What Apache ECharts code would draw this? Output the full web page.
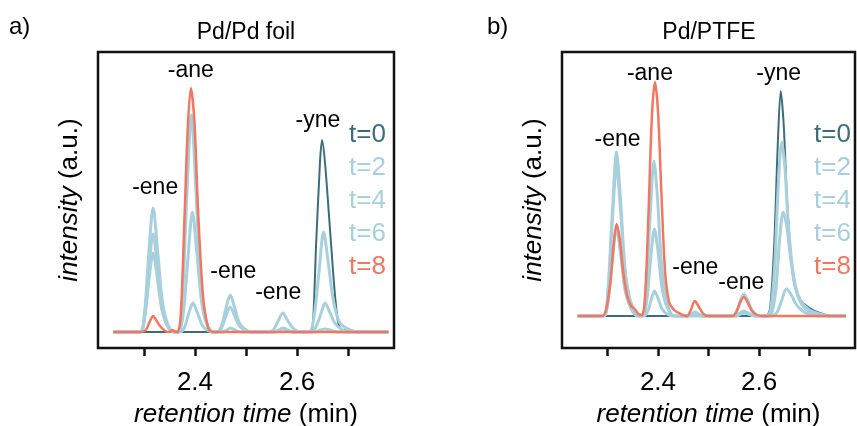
<!DOCTYPE html>
<html>
<head>
<meta charset="utf-8">
<script src="https://cdn.jsdelivr.net/npm/echarts@6/dist/echarts.min.js"></script>
<style>
  html, body { margin: 0; background: #fff; }
  #chart { width: 857px; height: 426px; }
</style>
</head>
<body>
<div id="chart"></div>
<script>
const FONT = '"Liberation Sans", Arial, sans-serif'
const INK = '#000'

const names = ['t=0', 't=2', 't=4', 't=6', 't=8']
const colors = ['#3d6d7a', '#a8d0dc', '#a8d0dc', '#a8d0dc', '#f17760']
const widths = [2, 3, 3, 3, 2.5]

const tickValues = [2.3, 2.4, 2.5, 2.6, 2.7]
const tickLabels = [2.4, 2.6]

// a) Pd/Pd foil  [retention time, intensity]
const foilT0 = [[2.24,0],[2.620,0],[2.628,0],[2.638,95],[2.645,170],[2.649,192],[2.655,168],[2.665,100],[2.676,28],[2.684,4],[2.70,1],[2.779,0]]
const foilT2 = [[2.24,0],[2.292,0],[2.301,12],[2.309,48],[2.318,79],[2.327,51],[2.336,20],[2.346,6],[2.358,0],
  [2.370,0],[2.379,4],[2.387,17],[2.396,29],[2.405,19],[2.414,7],[2.424,2],[2.436,0],
  [2.443,0],[2.452,4],[2.460,15],[2.469,25],[2.478,16],[2.487,6],[2.497,2],[2.51,0],
  [2.546,0],[2.555,3],[2.563,11],[2.572,19],[2.581,12],[2.590,5],[2.600,1],[2.612,0],
  [2.624,0],[2.633,14],[2.643,60],[2.652,100],[2.661,70],[2.671,32],[2.683,10],[2.70,3],[2.72,0],[2.779,0]]
const foilT4 = [[2.24,0],[2.292,0],[2.301,19],[2.309,75],[2.318,124],[2.327,80],[2.336,31],[2.346,9],[2.358,0],
  [2.368,0],[2.377,18],[2.386,72],[2.395,120],[2.404,78],[2.413,30],[2.423,8],[2.436,0],
  [2.443,0],[2.452,6],[2.460,22],[2.469,37],[2.478,24],[2.487,9],[2.497,3],[2.51,0],
  [2.556,0],[2.564,2],[2.572,4],[2.582,2],[2.594,0],
  [2.627,0],[2.636,4],[2.646,17],[2.655,29],[2.664,20],[2.674,9],[2.686,3],[2.70,0],[2.779,0]]
const foilT6 = [[2.24,0],[2.292,0],[2.301,15],[2.309,60],[2.318,98],[2.327,63],[2.336,25],[2.346,7],[2.358,0],
  [2.367,0],[2.375,30],[2.384,135],[2.393,217],[2.402,140],[2.411,52],[2.421,14],[2.434,0],
  [2.455,0],[2.463,2],[2.469,4],[2.478,2],[2.49,0],
  [2.558,0],[2.565,1.5],[2.572,3],[2.581,1.5],[2.592,0],
  [2.636,0],[2.646,2],[2.655,3],[2.665,2],[2.68,0],[2.779,0]]
const foilT8 = [[2.24,0],[2.296,0],[2.305,3],[2.311,10],[2.318,16],[2.325,11],[2.333,5],[2.342,1],[2.350,0],[2.356,2],[2.362,0],
  [2.366,0],[2.372,15],[2.380,122],[2.386,205],[2.392,244],[2.399,210],[2.406,122],[2.416,35],[2.426,4],[2.435,0],[2.779,0]]

// b) Pd/PTFE
const ptfeT0 = [[2.241,0],[2.608,0],[2.615,0],[2.622,8],[2.630,70],[2.637,170],[2.643,225],[2.649,190],[2.655,120],[2.662,65],[2.670,32],[2.682,16],[2.700,8],[2.720,3],[2.745,0],[2.772,0]]
const ptfeT2 = [[2.241,0],[2.292,0],[2.300,10],[2.309,52],[2.318,88],[2.326,62],[2.335,25],[2.346,8],[2.360,0],
  [2.372,0],[2.380,5],[2.387,17],[2.393,25],[2.400,18],[2.408,7],[2.418,2],[2.43,0],
  [2.458,0],[2.466,2],[2.473,4],[2.481,2],[2.49,0],
  [2.548,0],[2.556,5],[2.563,15],[2.570,22],[2.578,15],[2.586,6],[2.596,1],[2.606,0],
  [2.615,0],[2.623,6],[2.631,50],[2.638,130],[2.645,174],[2.651,150],[2.657,100],[2.664,58],[2.672,30],[2.684,14],[2.70,6],[2.72,2],[2.745,0],[2.772,0]]
const ptfeT4 = [[2.241,0],[2.292,0],[2.300,17],[2.309,90],[2.318,150],[2.326,105],[2.335,42],[2.346,13],[2.360,0],
  [2.370,0],[2.378,16],[2.386,60],[2.393,87],[2.400,65],[2.408,28],[2.418,9],[2.432,0],
  [2.460,0],[2.473,3],[2.488,0],
  [2.555,0],[2.562,3],[2.570,5],[2.579,3],[2.592,0],
  [2.618,0],[2.626,4],[2.634,30],[2.641,78],[2.648,104],[2.655,90],[2.662,60],[2.670,33],[2.680,16],[2.695,6],[2.72,1],[2.745,0],[2.772,0]]
const ptfeT6 = [[2.241,0],[2.292,0],[2.300,19],[2.309,98],[2.318,164],[2.326,115],[2.335,46],[2.346,14],[2.360,0],
  [2.368,0],[2.376,25],[2.385,105],[2.392,155],[2.399,118],[2.407,52],[2.417,15],[2.432,0],
  [2.556,0],[2.563,2],[2.570,3],[2.579,2],[2.592,0],
  [2.625,0],[2.636,4],[2.645,16],[2.654,27],[2.663,22],[2.673,12],[2.686,5],[2.70,2],[2.72,0],[2.772,0]]
const ptfeT8 = [[2.241,0],[2.290,0],[2.298,8],[2.306,35],[2.312,70],[2.318,92],[2.324,78],[2.331,45],[2.339,20],[2.347,10],[2.354,7],[2.361,2],[2.368,1],
  [2.374,15],[2.381,100],[2.388,200],[2.394,234],[2.400,205],[2.407,120],[2.414,45],[2.422,14],[2.432,6],[2.445,2],[2.455,0],
  [2.458,0],[2.465,6],[2.473,15],[2.481,9],[2.490,2],[2.50,0],
  [2.548,0],[2.556,5],[2.563,14],[2.570,19],[2.578,13],[2.586,5],[2.596,1],[2.606,0],[2.772,0]]

// peak annotations [text, time, intensity]
const foilPeaks = [['-ene',2.322,144],['-ane',2.392,261],['-ene',2.475,60],['-ene',2.563,39],['-yne',2.641,211]]
const ptfePeaks = [['-ene',2.320,176],['-ane',2.384,242],['-ene',2.474,48],['-ene',2.565,33],['-yne',2.639,242]]

const panels = [
  { title: 'Pd/Pd foil', tag: 'a)', lines: [foilT0, foilT2, foilT4, foilT6, foilT8], peaks: foilPeaks, yMin: -16, yMax: 280 },
  { title: 'Pd/PTFE', tag: 'b)', lines: [ptfeT0, ptfeT2, ptfeT4, ptfeT6, ptfeT8], peaks: ptfePeaks, yMin: -32, yMax: 264 },
]

const grids = [
  { left: 98, top: 52, width: 296, height: 296 },
  { left: 562, top: 52, width: 293, height: 296 },
]

const chart = echarts.init(document.getElementById('chart'))

const series = []
panels.forEach((p, k) => {
  p.lines.forEach((d, i) => {
    series.push({
      name: names[i], type: 'line', xAxisIndex: k, yAxisIndex: k,
      data: d, showSymbol: false, smooth: 0.3,
      lineStyle: { color: colors[i], width: widths[i] },
      itemStyle: { color: colors[i] },
      silent: true,
    })
  })
  series.push({
    type: 'scatter', xAxisIndex: k, yAxisIndex: k, symbolSize: 0, silent: true, z: 5,
    itemStyle: { opacity: 1 },
    data: p.peaks.map(([t, x, y]) => ({ name: t, value: [x, y] })),
    label: { show: true, position: 'inside', formatter: '{b}', color: INK, opacity: 1, textBorderWidth: 0, fontSize: 23, fontFamily: FONT },
  })
})

chart.setOption({
  animation: false,
  backgroundColor: '#fff',
  grid: grids.map(g => ({ ...g, outerBoundsMode: 'none', show: true, borderColor: '#111', borderWidth: 2.5, backgroundColor: 'transparent' })),
  xAxis: grids.map((g, k) => ({
    gridIndex: k, type: 'value', min: 2.21, max: 2.79,
    splitLine: { show: false },
    axisLine: { show: false, onZero: false },
    axisTick: { show: true, customValues: tickValues, length: 8, lineStyle: { color: '#111', width: 2.5 } },
    axisLabel: { customValues: tickLabels, color: INK, fontSize: 26, fontFamily: FONT, margin: 22, formatter: v => v.toFixed(1) },
    name: '{i|retention time} (min)', nameLocation: 'middle', nameGap: 54,
    nameTextStyle: { color: INK, fontSize: 26, fontFamily: FONT, rich: { i: { fontStyle: 'italic', fontSize: 26, fontFamily: FONT, color: INK } } },
  })),
  yAxis: panels.map((p, k) => ({
    gridIndex: k, type: 'value', min: p.yMin, max: p.yMax,
    axisLine: { show: false, onZero: false }, axisTick: { show: false }, axisLabel: { show: false }, splitLine: { show: false },
    name: '{i|intensity} (a.u.)', nameLocation: 'middle', nameGap: 15,
    nameTextStyle: { color: INK, fontSize: 26, fontFamily: FONT, rich: { i: { fontStyle: 'italic', fontSize: 26, fontFamily: FONT, color: INK } } },
  })),
  legend: [339, 804].map(left => ({
    left, top: 117, orient: 'vertical', icon: 'none', itemWidth: 0, itemHeight: 24, itemGap: 7,
    selectedMode: false,
    data: names.map((n, i) => ({ name: n, textStyle: { color: colors[i] } })),
    textStyle: { fontSize: 26, fontFamily: FONT },
  })),
  graphic: [
    { type: 'text', x: 9, y: 27, style: { text: 'a)', fill: INK, font: '24px ' + FONT, verticalAlign: 'middle' } },
    { type: 'text', x: 487, y: 27, style: { text: 'b)', fill: INK, font: '24px ' + FONT, verticalAlign: 'middle' } },
    { type: 'text', x: 246, y: 33, style: { text: panels[0].title, fill: INK, font: '23px ' + FONT, align: 'center', verticalAlign: 'middle' } },
    { type: 'text', x: 709, y: 33, style: { text: panels[1].title, fill: INK, font: '23px ' + FONT, align: 'center', verticalAlign: 'middle' } },
  ],
  series,
})
</script>
</body>
</html>
